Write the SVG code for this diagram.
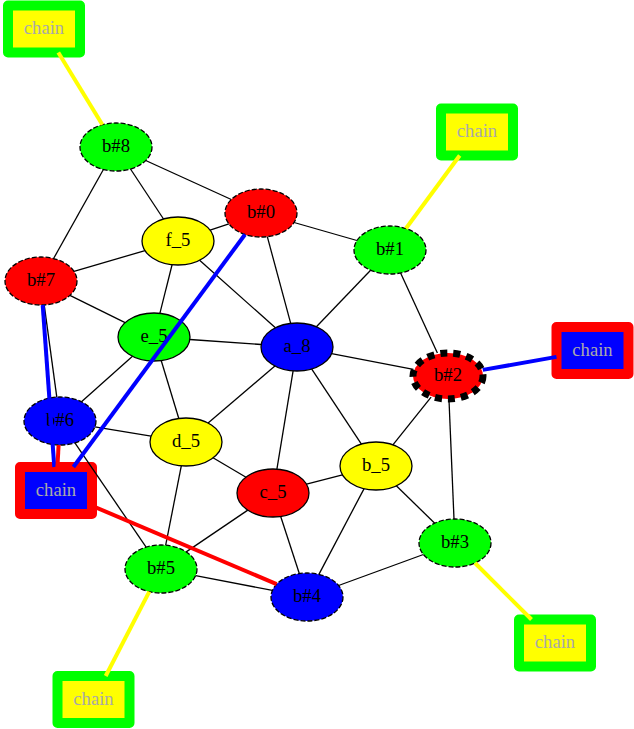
<svg xmlns="http://www.w3.org/2000/svg" width="634" height="729" viewBox="0 0 634 729">
<style>
.n{stroke:#000;stroke-width:1.3}
.d{stroke-dasharray:5,2}
.t{font-family:"Liberation Serif","Times New Roman",serif;font-size:18.67px;text-anchor:middle;fill:#000}
.ct{font-family:"Liberation Serif","Times New Roman",serif;font-size:18.67px;text-anchor:middle;fill:#a9a9a9}
.cg{fill:#ffff00;stroke:#00ff00;stroke-width:10;stroke-linejoin:round}
.cr{fill:#0000ff;stroke:#ff0000;stroke-width:10;stroke-linejoin:round}
.e line{stroke:#000;stroke-width:1.3}
.thick{stroke-width:4;fill:none}
.y{stroke:#ffff00}
.b{stroke:#0000ff}
.r{stroke:#ff0000}
.G{fill:#00ff00}.R{fill:#ff0000}.B{fill:#0000ff}.Y{fill:#ffff00}
</style>
<rect width="634" height="729" fill="#fff"/>
<g id="chain_tl"><rect class="cg" x="8" y="5.5" width="72" height="47"/><text class="ct" x="44" y="34">chain</text></g>
<g id="chain_tr"><rect class="cg" x="441" y="108.5" width="72" height="47"/><text class="ct" x="477" y="137">chain</text></g>
<g id="chain_r"><rect class="cr" x="556.5" y="327" width="72" height="47"/><text class="ct" x="592.5" y="355.5">chain</text></g>
<g id="chain_br"><rect class="cg" x="519" y="619.5" width="72" height="47"/><text class="ct" x="555" y="648">chain</text></g>
<g id="chain_bl"><rect class="cg" x="57.5" y="676" width="72" height="47"/><text class="ct" x="93.5" y="704.5">chain</text></g>
<g id="chain_l"><rect class="cr" x="20" y="467" width="72" height="47"/><text class="ct" x="56" y="495.5">chain</text></g>
<g id="b8"><ellipse class="n d G" cx="116" cy="147" rx="36" ry="24"/><text class="t" x="116" y="152">b#8</text></g>
<g id="b0"><ellipse class="n d R" cx="261" cy="213" rx="36" ry="24"/><text class="t" x="261" y="218">b#0</text></g>
<g id="f_5"><ellipse class="n Y" cx="178" cy="241" rx="36" ry="24"/><text class="t" x="178" y="246">f_5</text></g>
<g id="b7"><ellipse class="n d R" cx="41" cy="281" rx="36" ry="24"/><text class="t" x="41" y="286">b#7</text></g>
<g id="b1"><ellipse class="n d G" cx="390" cy="250" rx="36" ry="24"/><text class="t" x="390" y="255">b#1</text></g>
<g id="e_5"><ellipse class="n G" cx="154" cy="337" rx="36" ry="24"/><text class="t" x="154" y="342">e_5</text></g>
<g id="a_8"><ellipse class="n B" cx="297" cy="347" rx="36" ry="24"/><text class="t" x="297" y="352">a_8</text></g>
<g id="b2"><ellipse class="R" cx="448" cy="376" rx="35" ry="23" stroke="#000" stroke-width="7" stroke-dasharray="7,6"/><text class="t" x="448" y="381">b#2</text></g>
<g id="b6"><ellipse class="n d B" cx="60" cy="421" rx="36" ry="24"/><text class="t" x="60" y="426">b#6</text></g>
<g id="d_5"><ellipse class="n Y" cx="186" cy="442" rx="36" ry="24"/><text class="t" x="186" y="447">d_5</text></g>
<g id="b_5"><ellipse class="n Y" cx="376" cy="466" rx="36" ry="24"/><text class="t" x="376" y="471">b_5</text></g>
<g id="c_5"><ellipse class="n R" cx="273" cy="493" rx="36" ry="24"/><text class="t" x="273" y="498">c_5</text></g>
<g id="b3"><ellipse class="n d G" cx="455" cy="543" rx="36" ry="24"/><text class="t" x="455" y="548">b#3</text></g>
<g id="b5"><ellipse class="n d G" cx="161" cy="569" rx="36" ry="24"/><text class="t" x="161" y="574">b#5</text></g>
<g id="b4"><ellipse class="n d B" cx="307" cy="597" rx="36" ry="24"/><text class="t" x="307" y="602">b#4</text></g>
<g id="edges" class="e">
<line x1="145.7" y1="160.5" x2="231.3" y2="199.5"/>
<line x1="130.5" y1="169" x2="163.5" y2="219"/>
<line x1="103.4" y1="169.5" x2="53.6" y2="258.5"/>
<line x1="228.9" y1="223.8" x2="210.1" y2="230.2"/>
<line x1="267.3" y1="236.6" x2="290.7" y2="323.4"/>
<line x1="294.1" y1="222.5" x2="356.9" y2="240.5"/>
<line x1="145" y1="250.6" x2="74" y2="271.4"/>
<line x1="172.1" y1="264.7" x2="159.9" y2="313.3"/>
<line x1="199.6" y1="260.2" x2="275.4" y2="327.8"/>
<line x1="69.9" y1="295.3" x2="125.1" y2="322.7"/>
<line x1="44.2" y1="304.9" x2="56.8" y2="397.1"/>
<line x1="370.6" y1="270.2" x2="316.4" y2="326.8"/>
<line x1="400.6" y1="272.9" x2="437.4" y2="353.1"/>
<line x1="189.8" y1="339.5" x2="261.2" y2="344.5"/>
<line x1="132.5" y1="356.2" x2="81.5" y2="401.8"/>
<line x1="161.2" y1="360.5" x2="178.8" y2="418.5"/>
<line x1="331.6" y1="353.6" x2="413.4" y2="369.4"/>
<line x1="274.9" y1="365.9" x2="208.1" y2="423.1"/>
<line x1="293.1" y1="370.9" x2="276.9" y2="469.1"/>
<line x1="311.6" y1="368.9" x2="361.4" y2="444.1"/>
<line x1="94.9" y1="426.8" x2="151.1" y2="436.2"/>
<line x1="74.9" y1="442.8" x2="146.1" y2="547.2"/>
<line x1="213" y1="457.8" x2="246" y2="477.2"/>
<line x1="181.3" y1="465.8" x2="165.7" y2="545.2"/>
<line x1="306.5" y1="484.2" x2="342.5" y2="474.8"/>
<line x1="247.8" y1="510.1" x2="186.2" y2="551.9"/>
<line x1="280.7" y1="516.5" x2="299.3" y2="573.5"/>
<line x1="392.9" y1="444.8" x2="431.1" y2="397.2"/>
<line x1="364.1" y1="488.6" x2="318.9" y2="574.4"/>
<line x1="396.3" y1="485.8" x2="434.7" y2="523.2"/>
<line x1="449" y1="400" x2="454" y2="519"/>
<line x1="423.4" y1="554.5" x2="338.6" y2="585.5"/>
<line x1="195.6" y1="575.6" x2="272.4" y2="590.4"/>
<path class="thick y" d="M58.3,52.5L102.4,124.8"/>
<path class="thick y" d="M459.7,155.5L405.9,228.5"/>
<path class="thick b" d="M556.5,356.9L482.8,369.9"/>
<path class="thick y" d="M531.5,619.5L475,563"/>
<path class="thick y" d="M105.7,676L149.3,591.7"/>
<path class="thick b" d="M42.7,305L54.3,467"/>
<path class="thick b" d="M245,234.5L73.4,467"/>
<path class="thick r" d="M58.6,445L57.4,467"/>
<path class="thick r" d="M92,505.8L276.6,584.1"/>
</g>
</svg>
